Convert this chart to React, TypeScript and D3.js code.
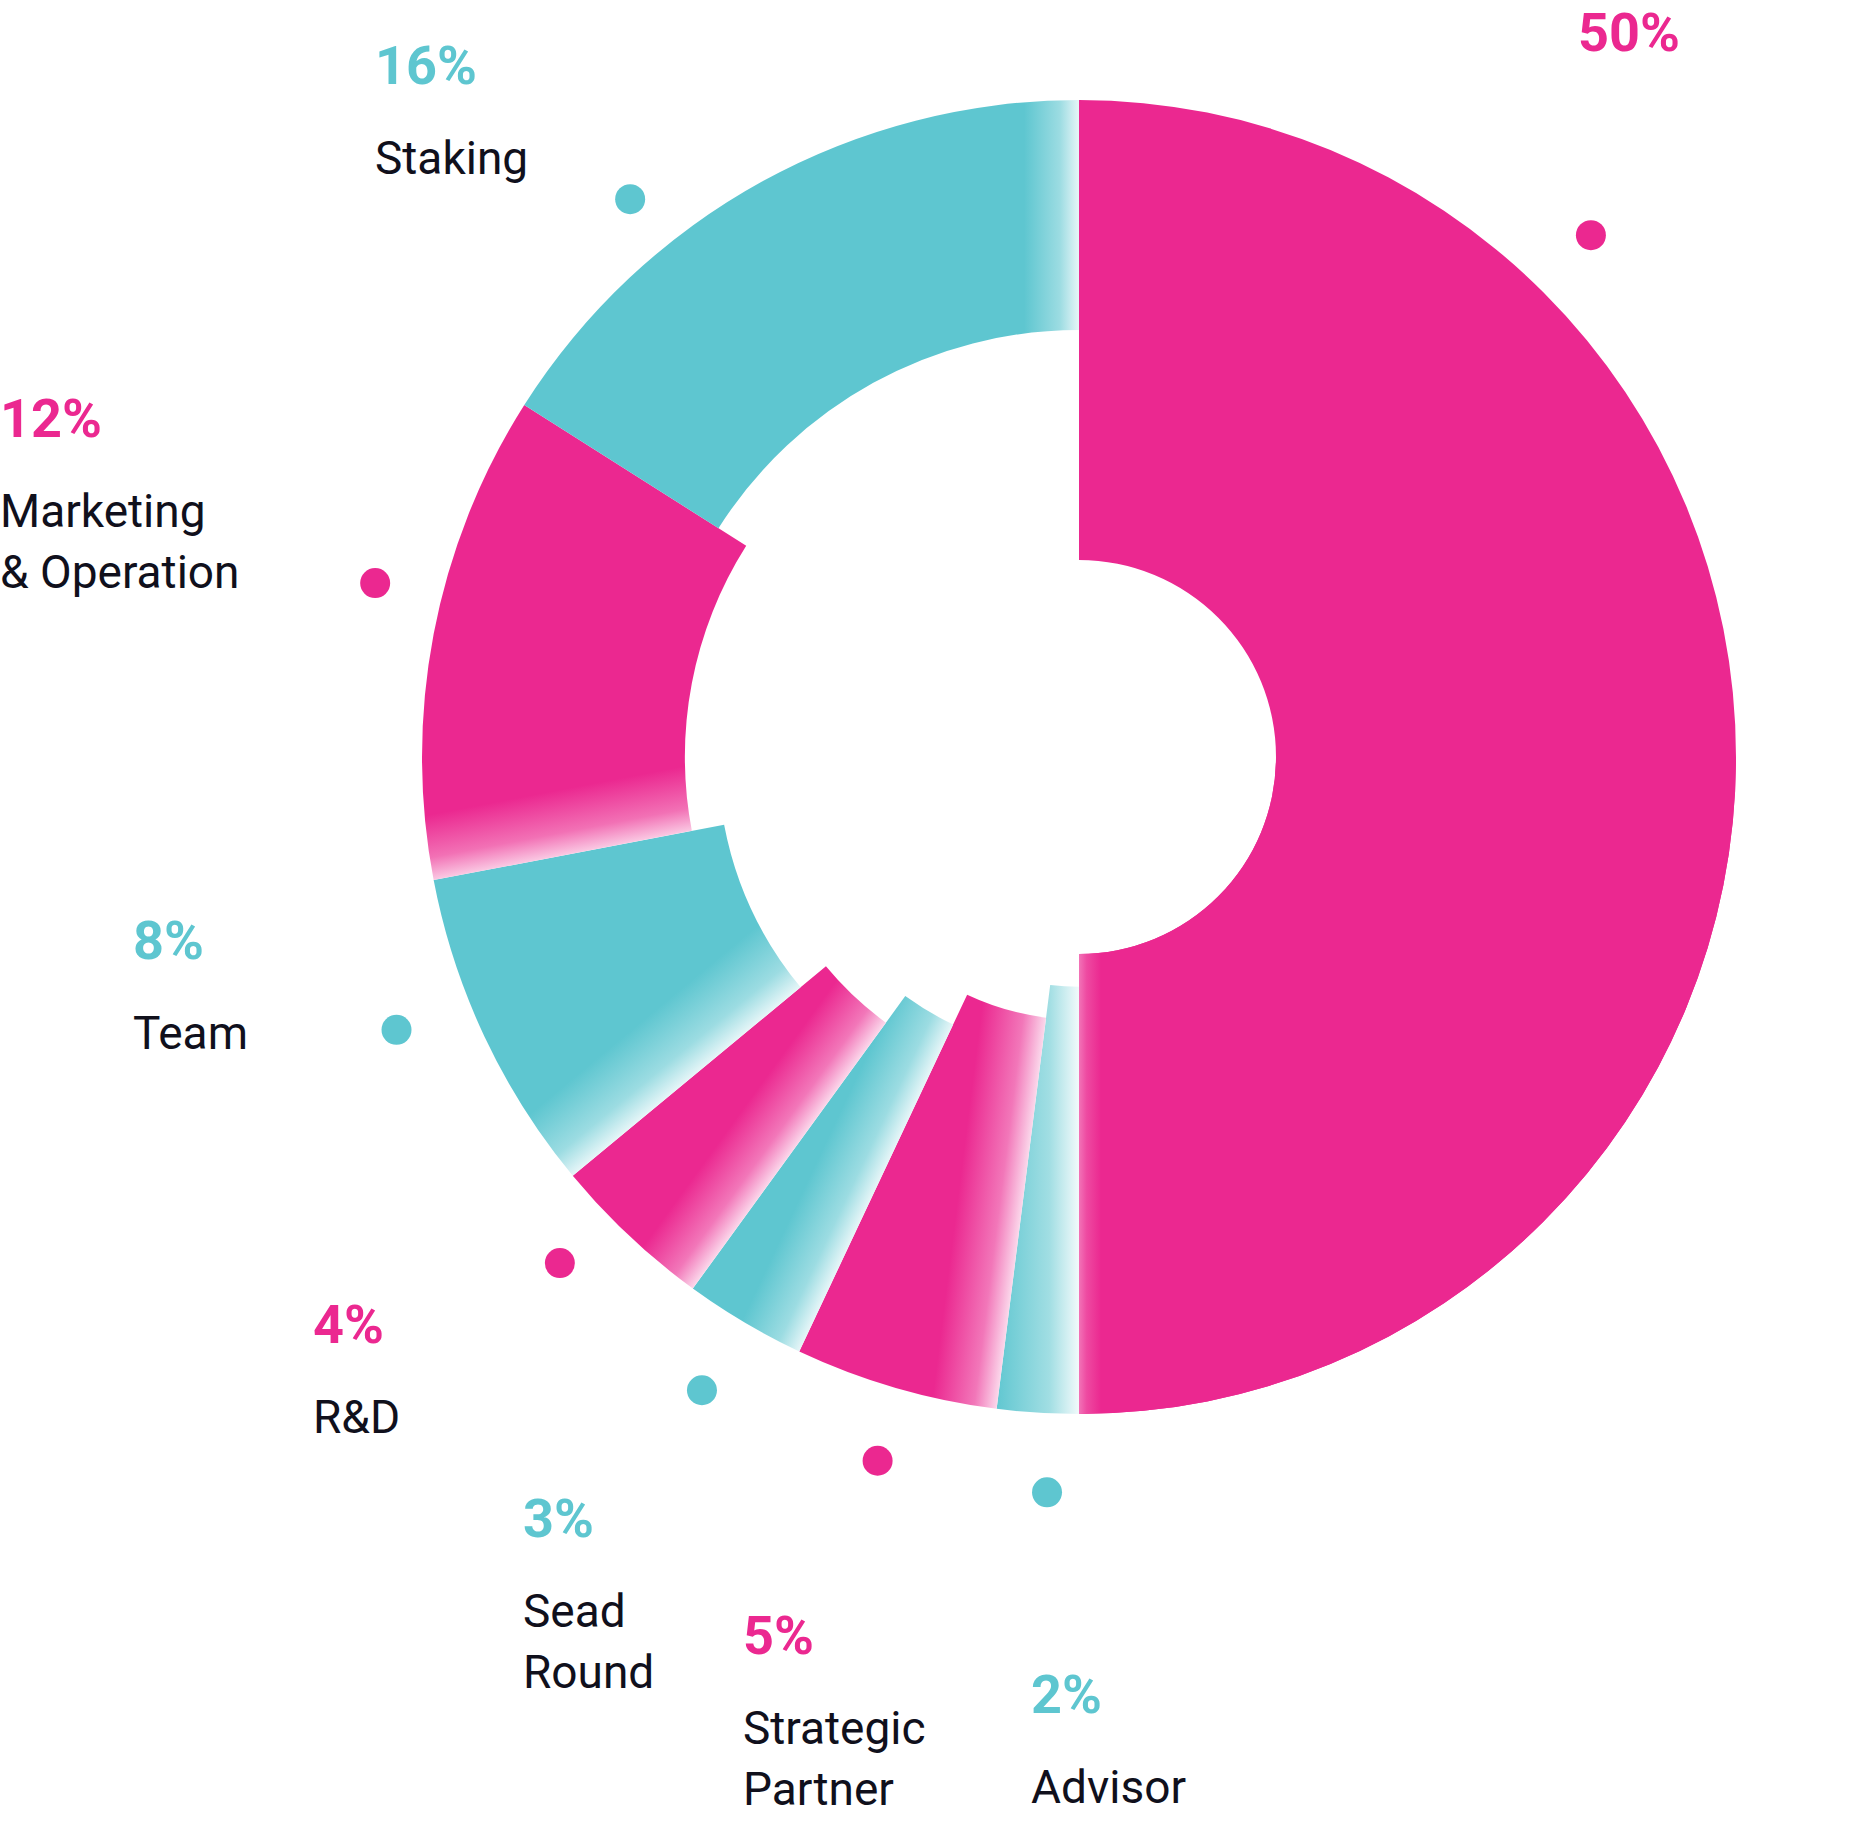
import React from "react";
import * as d3 from "d3";

// ---- data ----
const categories = ["", "Advisor", "Strategic Partner", "Sead Round", "R&D", "Team", "Marketing & Operation", "Staking"];
const nameLines: string[][] = [[], ["Advisor"], ["Strategic", "Partner"], ["Sead", "Round"], ["R&D"], ["Team"], ["Marketing", "& Operation"], ["Staking"]];
const values = [50, 2, 5, 3, 4, 8, 12, 16];
const pctLabels = ["50%", "2%", "5%", "3%", "4%", "8%", "12%", "16%"];
const colorKeys = ["pink", "teal", "pink", "teal", "pink", "teal", "pink", "teal"];

// ---- layout / style ----
const W = 1872;
const H = 1830;
const CX = 1079;
const CY = 757;
const OUTER = 657;
const PINK = "#EB2890";
const TEAL = "#5EC6D0";
const TEXT = "#10101c";
const palette: Record<string, string> = { pink: PINK, teal: TEAL };
const fadeSide = ["end", "start", "start", "start", "start", "start", "start", "end"];
const fadeWidth = [22, 85, 65, 65, 65, 75, 65, 55];
const fadeStrength = [0.35, 0.92, 0.82, 0.85, 0.82, 0.85, 0.75, 0.85];
const dotAnglesDeg = [44.45, 182.49, 195.97, 210.77, 225.73, 248.21, 283.88, 321.18];
const dotRadius = [731, 736, 732, 737, 725, 735, 725, 716];
const labelX = [1578, 1031, 743, 523, 313, 133, 0, 375];
const labelY = [51, 1713, 1654, 1537, 1343, 959, 437, 84];

export default function App() {
  const pie = d3.pie<number>().sort(null).value((d) => d);
  const arcsData = pie(values);
  const innerScale = d3.scaleLinear().domain([0, values.length - 1]).range([197, 427]);
  const arcGen = d3.arc<any>().outerRadius(OUTER);
  const first = arcsData[0];
  const firstOverlay = arcGen.innerRadius(innerScale(0))({
    startAngle: (first.startAngle + first.endAngle) / 2,
    endAngle: first.endAngle,
  });

  return (
    <svg width={W} height={H} style={{ position: "absolute", left: 0, top: 0, background: "#fff" }}>
      <defs>
        {arcsData.map((a, i) => {
          const base = palette[colorKeys[i]];
          const theta = fadeSide[i] === "start" ? a.startAngle : a.endAngle;
          const dir = fadeSide[i] === "start" ? 1 : -1;
          const w = fadeWidth[i];
          const light = d3.interpolateRgb(base, "#ffffff")(fadeStrength[i]);
          return (
            <linearGradient
              key={i}
              id={`g${i}`}
              gradientUnits="userSpaceOnUse"
              x1={0}
              y1={0}
              x2={dir * w * Math.cos(theta)}
              y2={dir * w * Math.sin(theta)}
            >
              <stop offset="0" stopColor={light} />
              <stop offset="0.35" stopColor={d3.interpolateRgb(base, "#ffffff")(fadeStrength[i] * 0.45)} />
              <stop offset="1" stopColor={base} />
            </linearGradient>
          );
        })}
      </defs>
      <g transform={`translate(${CX},${CY})`}>
        {arcsData.map((a, i) => (
          <path
            key={categories[i] + i}
            d={arcGen.innerRadius(innerScale(i))(a) || ""}
            fill={i === 0 ? palette[colorKeys[0]] : `url(#g${i})`}
          />
        ))}
        <path d={firstOverlay || ""} fill="url(#g0)" />
        {dotAnglesDeg.map((deg, i) => {
          const t = (deg * Math.PI) / 180;
          return (
            <circle
              key={i}
              cx={dotRadius[i] * Math.sin(t)}
              cy={-dotRadius[i] * Math.cos(t)}
              r={15}
              fill={palette[colorKeys[i]]}
            />
          );
        })}
      </g>
      {pctLabels.map((p, i) => (
        <g key={i} fontFamily="Roboto, 'Noto Sans', sans-serif">
          <text x={labelX[i]} y={labelY[i]} fontSize={54} fontWeight={700} fill={palette[colorKeys[i]]}>
            {p}
          </text>
          {nameLines[i].map((line, j) => (
            <text key={j} x={labelX[i]} y={labelY[i] + 90 + j * 61} fontSize={46} fill={TEXT}>
              {line}
            </text>
          ))}
        </g>
      ))}
    </svg>
  );
}
